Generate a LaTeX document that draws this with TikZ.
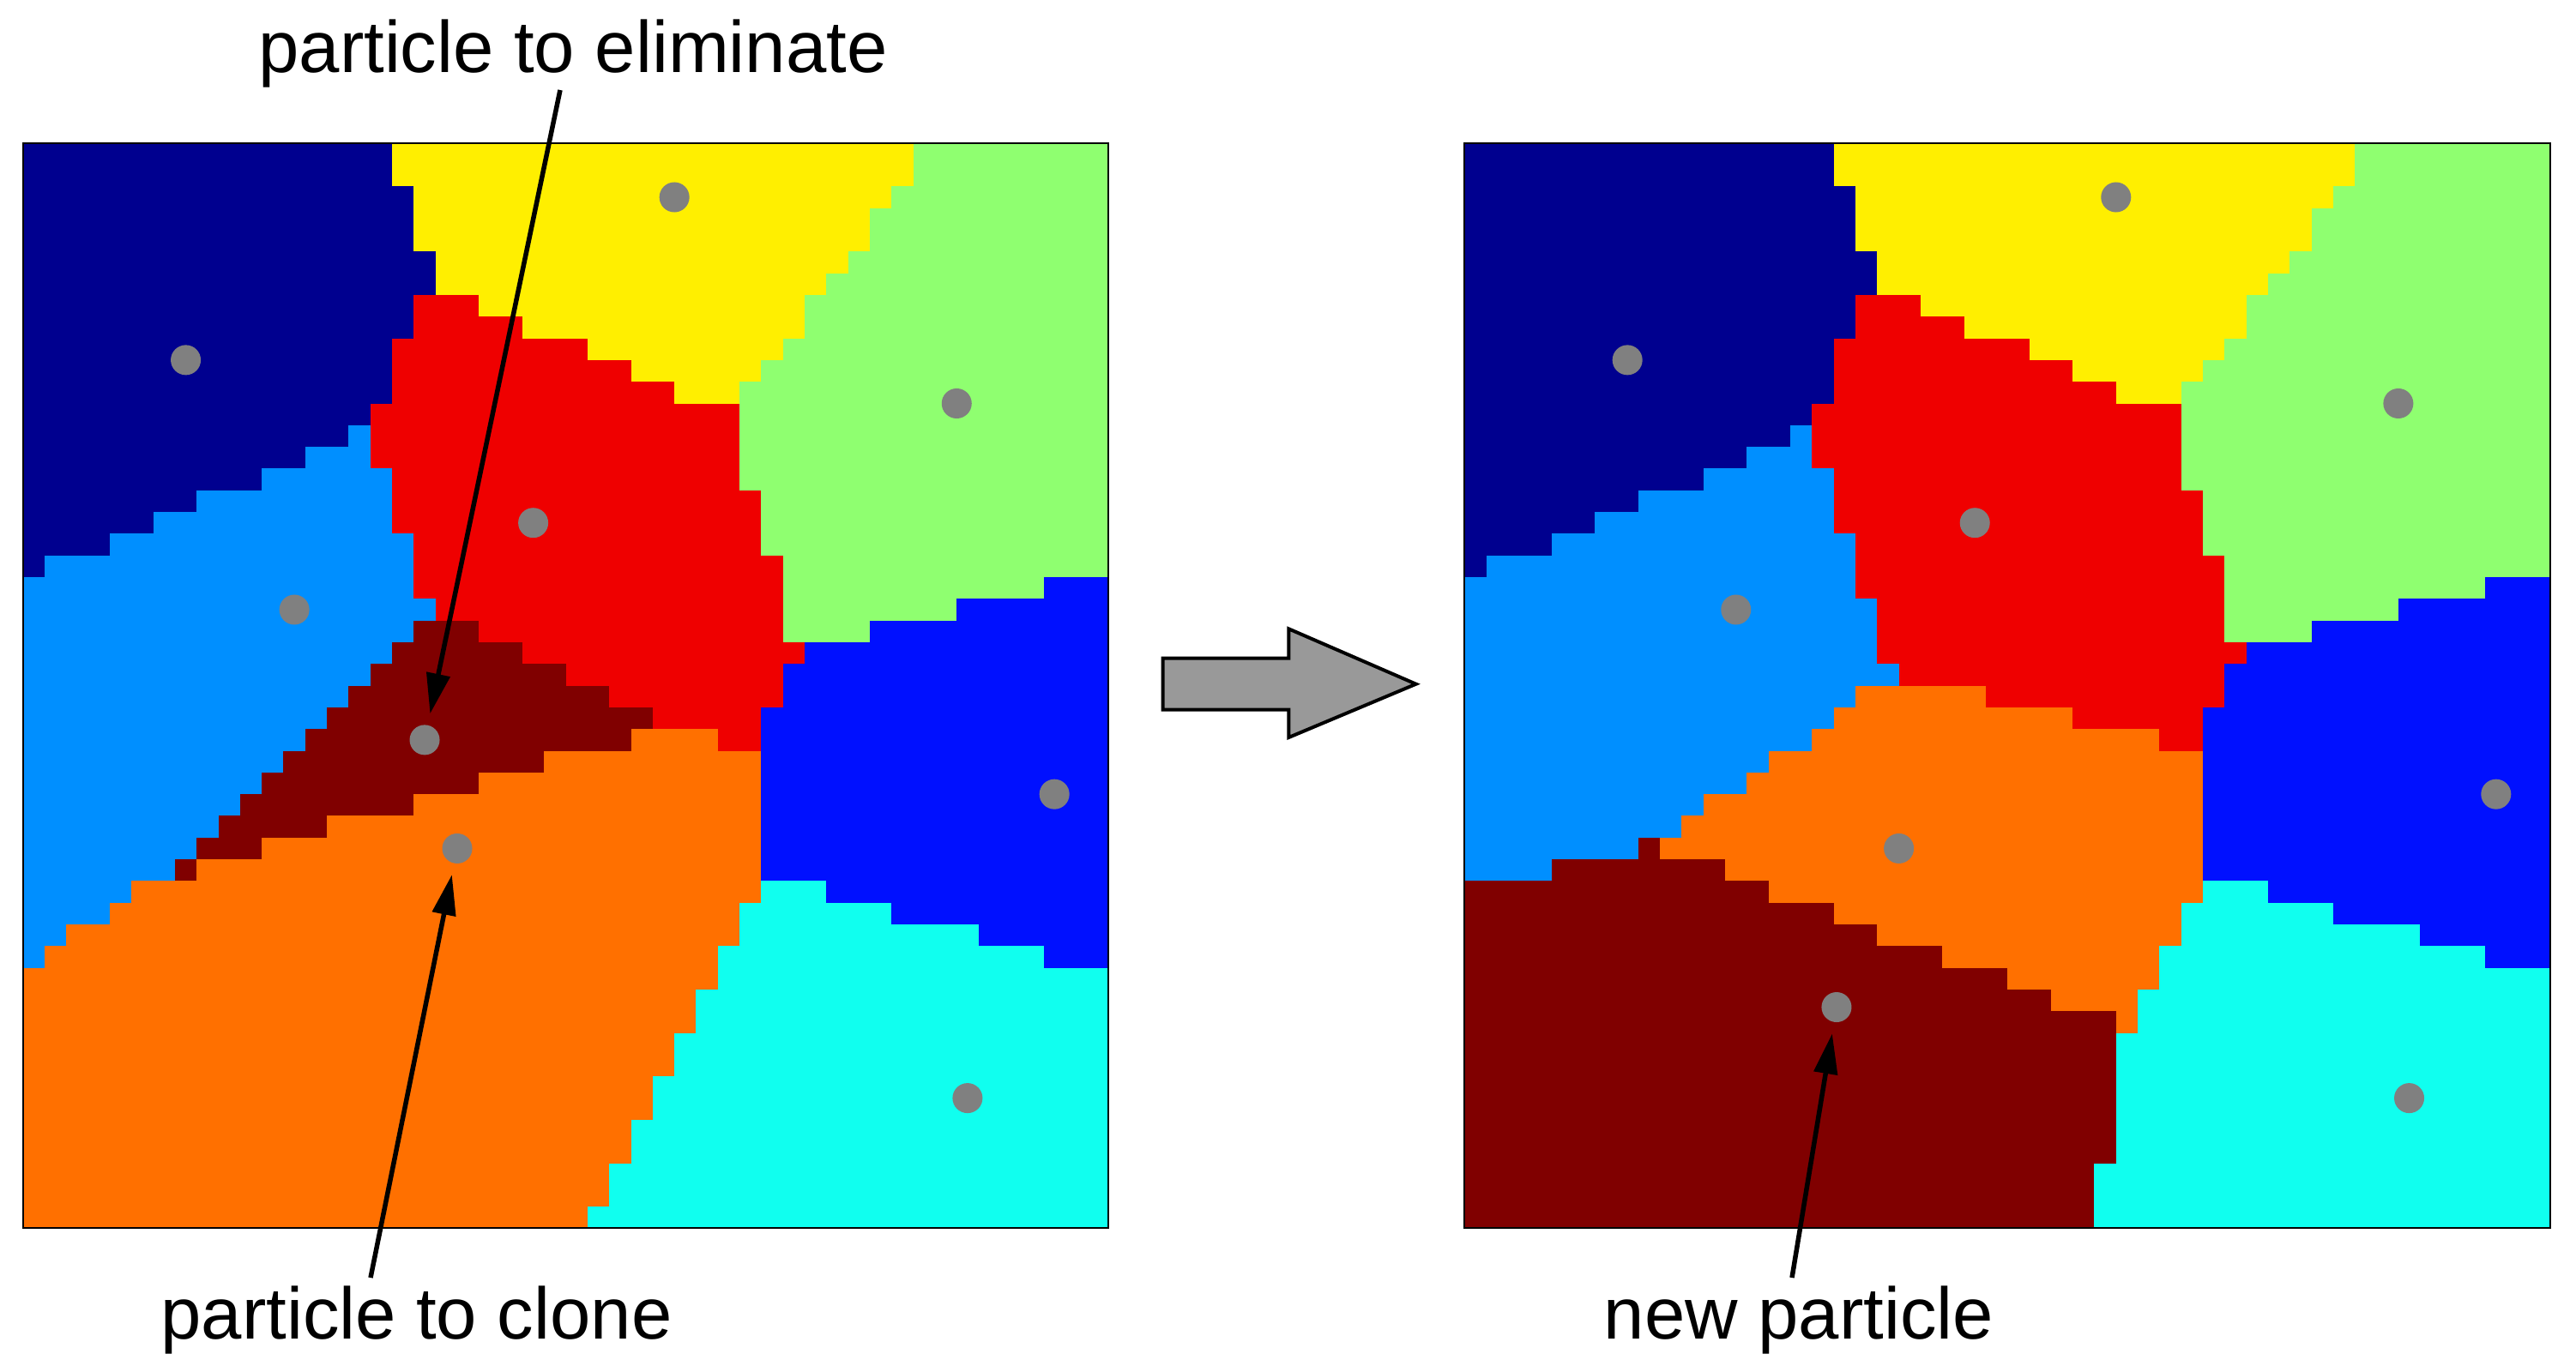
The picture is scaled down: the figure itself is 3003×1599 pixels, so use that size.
\documentclass[tikz,border=0pt]{standalone}
\usepackage{fontspec}
\setmainfont{Liberation Sans}
\usetikzlibrary{arrows.meta}
\definecolor{cDB}{HTML}{00008F}
\definecolor{cBL}{HTML}{0010FF}
\definecolor{cLB}{HTML}{008FFF}
\definecolor{cCY}{HTML}{10FFEF}
\definecolor{cGR}{HTML}{8FFF70}
\definecolor{cYE}{HTML}{FFEF00}
\definecolor{cOR}{HTML}{FF7000}
\definecolor{cRD}{HTML}{EF0000}
\definecolor{cDR}{HTML}{800000}
\definecolor{cDot}{HTML}{808080}
\definecolor{cArr}{HTML}{999999}

\newcount\vcI \newcount\vcJ \newcount\vcD \newcount\vcBestD
\newcount\vcDx \newcount\vcDy \newcount\vcStart \newcount\vcCx \newcount\vcCy

\def\vcseed#1#2#3{%
  \vcDx=\numexpr\vcCx-#1\relax
  \vcDy=\numexpr\vcCy-#2\relax
  \vcD=\numexpr\vcDx*\vcDx+\vcDy*\vcDy\relax
  \ifnum\vcD<\vcBestD \vcBestD=\vcD \def\vcBestC{#3}\fi}

\def\vcflush{\fill[fill=\vcRunC] (\the\vcStart,\the\vcJ) rectangle ({\the\vcI+0.03},{\the\vcJ+1.03});}

\def\vccol{%
  \ifnum\vcI<50
    \vcCx=\numexpr100*\vcI+50\relax
    \vcBestD=999999999
    \vcSeeds
    \ifx\vcBestC\vcRunC\else
      \ifnum\vcI>0 \vcflush\fi
      \let\vcRunC\vcBestC
      \vcStart=\vcI
    \fi
    \advance\vcI by 1
    \expandafter\vccol
  \else
    \vcflush
  \fi}
\def\vcrow{\vcI=0 \def\vcRunC{}\vcStart=0 \vcCy=\numexpr100*\vcJ+50\relax \vccol}
\def\vcrows{\ifnum\vcJ<50 \vcrow\advance\vcJ by 1 \expandafter\vcrows\fi}
\def\vcpanel#1{\let\vcSeeds#1\vcJ=0 \vcrows}

\def\seedsL{\vcseed{750}{1000}{cDB}\vcseed{1250}{2150}{cLB}\vcseed{2350}{1750}{cRD}%
  \vcseed{3000}{250}{cYE}\vcseed{4300}{1200}{cGR}\vcseed{1850}{2750}{cDR}%
  \vcseed{2000}{3250}{cOR}\vcseed{4750}{3000}{cBL}\vcseed{4350}{4400}{cCY}}
\def\seedsR{\vcseed{750}{1000}{cDB}\vcseed{1250}{2150}{cLB}\vcseed{2350}{1750}{cRD}%
  \vcseed{3000}{250}{cYE}\vcseed{4300}{1200}{cGR}\vcseed{1713}{3981}{cDR}%
  \vcseed{2000}{3250}{cOR}\vcseed{4750}{3000}{cBL}\vcseed{4350}{4400}{cCY}}

\begin{document}
\begin{tikzpicture}[x=0.01cm,y=-0.01cm,
  dot/.style={circle,fill=cDot,inner sep=0pt,minimum size=0.35cm},
  lbl/.style={font=\fontsize{24.2}{29}\selectfont,inner sep=0pt},
  conn/.style={line width=0.055cm,-{Triangle[length=0.47cm,width=0.27cm]},shorten >=0.13cm},
  frame/.style={draw=black,line width=0.02cm},
  bigarrow/.style={draw=black,fill=cArr,line width=0.04cm,line join=miter}]
\useasboundingbox (0,0) rectangle (3003,1599);

% left panel
\begin{scope}[shift={(26.7,166.7)},x=0.253cm,y=-0.253cm]
  \vcpanel\seedsL
  \draw[frame] (0,0) rectangle (50,50);
  \node[dot] (lDB) at (7.5,10) {};
  \node[dot] (lLB) at (12.5,21.5) {};
  \node[dot] (lRD) at (23.5,17.5) {};
  \node[dot] (lYE) at (30,2.5) {};
  \node[dot] (lGR) at (43,12) {};
  \node[dot] (lDR) at (18.5,27.5) {};
  \node[dot] (lOR) at (20,32.5) {};
  \node[dot] (lBL) at (47.5,30) {};
  \node[dot] (lCY) at (43.5,44) {};
\end{scope}

% right panel
\begin{scope}[shift={(1707.3,166.7)},x=0.253cm,y=-0.253cm]
  \vcpanel\seedsR
  \draw[frame] (0,0) rectangle (50,50);
  \node[dot] (rDB) at (7.5,10) {};
  \node[dot] (rLB) at (12.5,21.5) {};
  \node[dot] (rRD) at (23.5,17.5) {};
  \node[dot] (rYE) at (30,2.5) {};
  \node[dot] (rGR) at (43,12) {};
  \node[dot] (rNEW) at (17.13,39.81) {};
  \node[dot] (rOR) at (20,32.5) {};
  \node[dot] (rBL) at (47.5,30) {};
  \node[dot] (rCY) at (43.5,44) {};
\end{scope}

% big arrow
\draw[bigarrow] (1355.7,767.7) -- (1502.3,767.7) -- (1502.3,733.3) -- (1650.7,797.7)
  -- (1502.3,860) -- (1502.3,827.7) -- (1355.7,827.7) -- cycle;

% labels
\node[lbl,anchor=base] (tElim) at (668,84) {particle to eliminate};
\node[lbl,anchor=base] (tClone) at (485.5,1561) {particle to clone};
\node[lbl,anchor=base] (tNew) at (2097,1561) {new particle};

\coordinate (sElim) at (653,105);
\coordinate (sClone) at (432,1490);
\coordinate (sNew) at (2089,1490);

\draw[conn] (sElim) -- (lDR);
\draw[conn] (sClone) -- (lOR);
\draw[conn] (sNew) -- (rNEW);
\end{tikzpicture}
\end{document}
